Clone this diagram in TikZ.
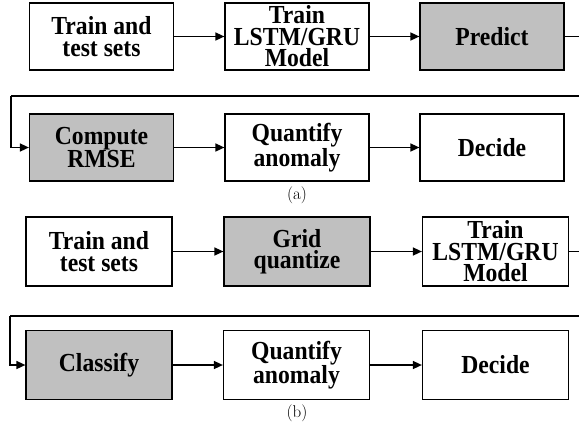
\documentclass[tikz,border=0pt]{standalone}
\usepackage{fontspec}
\newfontfamily\tms[FakeStretch=0.91]{Liberation Serif}
\usetikzlibrary{arrows.meta}
\definecolor{boxgray}{RGB}{192,192,192}
\tikzset{
  box/.style={draw=black, line width=1.2pt, fill=white, minimum width=144pt, minimum height=67pt,
    inner sep=0pt, align=center, font=\tms\bfseries\fontsize{26}{21.5}\selectfont},
  boxb/.style={box, minimum width=146pt, minimum height=69pt},
  grayfill/.style={fill=boxgray},
  conn/.style={draw=black, line width=1.5pt, -{Triangle[length=9pt,width=8pt]}},
  plainline/.style={draw=black, line width=1.5pt},
  captext/.style={font=\fontsize{17}{17}\selectfont, inner sep=0pt}
}
\begin{document}
\begin{tikzpicture}[x=1pt,y=-1pt]
\useasboundingbox (0,0) rectangle (579,423);
\clip (0,0) rectangle (579,423);
% (a)
\node[box] (a1) at (101.5,36.5) {Train and\\test sets};
\node[box] (a2) at (297,36.5) {Train\\LSTM/GRU\\Model};
\node[box,grayfill] (a3) at (492,36.5) {Predict};
\node[box,grayfill] (a4) at (101.5,147.5) {Compute\\RMSE};
\node[box] (a5) at (297,147.5) {Quantify\\anomaly};
\node[box] (a6) at (492,147.5) {Decide};
\node[captext] (capa) at (297,195) {(a)};
\coordinate (aR) at (590,36.5);
\coordinate (aL) at (11,96);
\draw[conn] (a1) -- (a2);
\draw[conn] (a2) -- (a3);
\draw[plainline] (a3.east) -- (aR) |- (aL);
\draw[conn] (aL) |- (a4.west);
\draw[conn] (a4) -- (a5);
\draw[conn] (a5) -- (a6);
% (b)
\node[boxb] (b1) at (99,251.5) {Train and\\test sets};
\node[boxb,grayfill] (b2) at (297,251.5) {Grid\\quantize};
\node[boxb] (b3) at (495.5,251.5) {Train\\LSTM/GRU\\Model};
\node[boxb,grayfill] (b4) at (99,365) {Classify};
\node[boxb] (b5) at (296.5,365) {Quantify\\anomaly};
\node[boxb] (b6) at (495.5,365) {Decide};
\node[captext] (capb) at (297,413) {(b)};
\coordinate (bR) at (590,251.5);
\coordinate (bL) at (10,316);
\draw[conn] (b1) -- (b2);
\draw[conn] (b2) -- (b3);
\draw[plainline] (b3.east) -- (bR) |- (bL);
\draw[conn] (bL) |- (b4.west);
\draw[conn] (b4) -- (b5);
\draw[conn] (b5) -- (b6);
\end{tikzpicture}
\end{document}
